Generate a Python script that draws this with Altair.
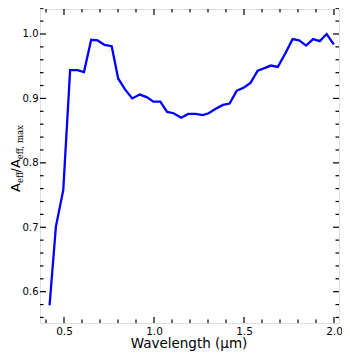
import altair as alt
import pandas as pd

wavelength = [0.420, 0.455, 0.496, 0.534, 0.575, 0.611, 0.651, 0.687, 0.725, 0.765,
              0.801, 0.839, 0.879, 0.921, 0.959, 0.997, 1.035, 1.073, 1.109, 1.151,
              1.190, 1.231, 1.271, 1.303, 1.343, 1.383, 1.420, 1.460, 1.500, 1.536,
              1.576, 1.614, 1.649, 1.688, 1.730, 1.770, 1.806, 1.845, 1.884, 1.921,
              1.959, 1.999]
aeff_ratio = [0.579, 0.701, 0.758, 0.944, 0.944, 0.941, 0.991, 0.990, 0.983, 0.981,
              0.931, 0.914, 0.900, 0.906, 0.902, 0.895, 0.895, 0.879, 0.877, 0.870,
              0.876, 0.876, 0.874, 0.877, 0.884, 0.890, 0.892, 0.912, 0.917, 0.924,
              0.943, 0.947, 0.951, 0.949, 0.970, 0.992, 0.990, 0.982, 0.992, 0.989,
              1.000, 0.984]

x_major = [0.5, 1.0, 1.5, 2.0]
x_minor = [0.4, 0.6, 0.7, 0.8, 0.9, 1.1, 1.2, 1.3, 1.4, 1.6, 1.7, 1.8, 1.9]
y_major = [0.6, 0.7, 0.8, 0.9, 1.0]
y_minor = [0.56, 0.58, 0.62, 0.64, 0.66, 0.68, 0.72, 0.74, 0.76, 0.78, 0.82, 0.84,
           0.86, 0.88, 0.92, 0.94, 0.96, 0.98, 1.02, 1.04]

X_DOMAIN = [0.3667, 2.0278]
Y_DOMAIN = [0.5514, 1.0388]
W, H = 299, 314
FONT = "DejaVu Sans"

df = pd.DataFrame({"wl": wavelength, "r": aeff_ratio})
xs = alt.Scale(domain=X_DOMAIN, nice=False, zero=False)
ys = alt.Scale(domain=Y_DOMAIN, nice=False, zero=False)

line = alt.Chart(df).mark_line(color="#0000ff", strokeWidth=2.3).encode(
    x=alt.X("wl:Q", scale=xs,
            axis=alt.Axis(values=x_major, format=".1f", title=None, domain=False,
                          ticks=False, grid=False, labelFont=FONT, labelFontSize=10.5,
                          labelColor="black", labelPadding=3)),
    y=alt.Y("r:Q", scale=ys,
            axis=alt.Axis(values=y_major, format=".1f", title=None, domain=False,
                          ticks=False, grid=False, labelFont=FONT, labelFontSize=10,
                          labelColor="black", labelPadding=2)),
)

def xticks(vals, length):
    d = pd.DataFrame({"v": vals})
    bottom = alt.Chart(d).mark_rule(color="black", strokeWidth=1.2).encode(
        x=alt.X("v:Q", scale=xs), y=alt.value(H), y2=alt.value(H - length))
    top = alt.Chart(d).mark_rule(color="black", strokeWidth=1.2).encode(
        x=alt.X("v:Q", scale=xs), y=alt.value(0), y2=alt.value(length))
    return [bottom, top]

def yticks(vals, length):
    d = pd.DataFrame({"v": vals})
    left = alt.Chart(d).mark_rule(color="black", strokeWidth=1.2).encode(
        y=alt.Y("v:Q", scale=ys), x=alt.value(0), x2=alt.value(length))
    right = alt.Chart(d).mark_rule(color="black", strokeWidth=1.2).encode(
        y=alt.Y("v:Q", scale=ys), x=alt.value(W), x2=alt.value(W - length))
    return [left, right]

ticks = xticks(x_major, 6) + xticks(x_minor, 3.5) + yticks(y_major, 6) + yticks(y_minor, 3.5)

# x title
xtitle = alt.Chart(pd.DataFrame({"t": ["Wavelength (μm)"]})).mark_text(
    font=FONT, fontSize=13.5, color="black", align="center", baseline="alphabetic"
).encode(text="t:N", x=alt.value(149), y=alt.value(339))

# y title composed of pieces (rotated)
pieces = [("A", 13, FONT, 0), ("eff", 8.5, "DejaVu Serif", 3),
          ("/A", 13, FONT, 0), ("eff, max", 8.5, "DejaVu Serif", 3)]
widths = {"A": 0.684 * 13, "eff": 1.25 * 8.5, "/A": 1.021 * 13, "eff, max": 3.9 * 8.5}
start = 183  # plot-relative y where the title begins (bottom end)
ytitle_layers = []
pos = start
for txt, size, fnt, shift in pieces:
    ytitle_layers.append(
        alt.Chart(pd.DataFrame({"t": [txt]})).mark_text(
            font=fnt, fontSize=size, color="black", align="left",
            baseline="alphabetic", angle=270
        ).encode(text="t:N", x=alt.value(-20 + shift), y=alt.value(pos))
    )
    pos -= widths[txt]

chart = alt.layer(line, *ticks, xtitle, *ytitle_layers).properties(
    width=W, height=H,
    autosize=alt.AutoSizeParams(type="none"),
    padding={"left": 32, "top": 1, "right": 3, "bottom": 30},
).configure_view(stroke="black", strokeWidth=1.5).configure(background="white")

chart.save("out.html", embed_options={"renderer": "svg", "actions": False})
